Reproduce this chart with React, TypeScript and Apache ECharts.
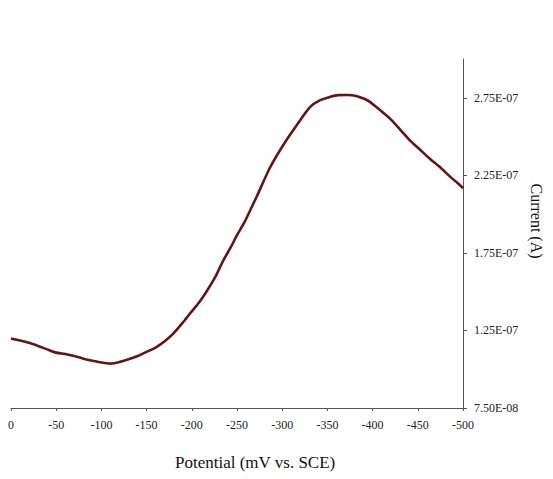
import React, { useEffect, useRef } from "react";
import * as echarts from "echarts";

// Potential (mV vs. SCE) and measured current (A)
const potential = [
  0, -10, -20, -30, -40, -50, -60, -70, -80, -90, -100, -110, -120, -130, -140, -150,
  -160, -170, -180, -190, -198, -208, -216, -226, -235, -243, -250, -258, -265, -272,
  -286, -301, -316, -331, -342, -353, -362, -372, -382, -390, -397, -408, -419, -430,
  -441, -452, -463, -475, -486, -494, -500,
];
const current = [
  1.198e-7, 1.185e-7, 1.17e-7, 1.15e-7, 1.128e-7, 1.107e-7, 1.098e-7, 1.085e-7, 1.068e-7,
  1.055e-7, 1.043e-7, 1.036e-7, 1.046e-7, 1.064e-7, 1.085e-7, 1.112e-7, 1.14e-7, 1.18e-7,
  1.233e-7, 1.3e-7, 1.359e-7, 1.43e-7, 1.498e-7, 1.595e-7, 1.703e-7, 1.785e-7, 1.864e-7,
  1.945e-7, 2.03e-7, 2.115e-7, 2.294e-7, 2.444e-7, 2.573e-7, 2.691e-7, 2.735e-7, 2.756e-7,
  2.767e-7, 2.768e-7, 2.762e-7, 2.745e-7, 2.724e-7, 2.672e-7, 2.617e-7, 2.548e-7, 2.477e-7,
  2.418e-7, 2.359e-7, 2.3e-7, 2.24e-7, 2.2e-7, 2.167e-7,
];
const currentTicks = [7.5e-8, 1.25e-7, 1.75e-7, 2.25e-7, 2.75e-7];

const sci = (v: number) => {
  const [m, e] = v.toExponential(2).toUpperCase().split("E");
  const n = parseInt(e, 10);
  const sign = n < 0 ? "-" : "+";
  return `${m}E${sign}${String(Math.abs(n)).padStart(2, "0")}`;
};

const SERIF = "'Liberation Serif', 'Times New Roman', serif";

export default function App() {
  const ref = useRef<HTMLDivElement>(null);

  useEffect(() => {
    document.body.style.margin = "0";
    if (!ref.current) return;
    const chart = echarts.init(ref.current, undefined, { renderer: "svg" });
    chart.setOption({
      animation: false,
      backgroundColor: "#ffffff",
      grid: { left: 11, right: 90, top: 59, bottom: 71, containLabel: false },
      xAxis: {
        type: "value",
        inverse: true,
        min: -500,
        max: 0,
        interval: 50,
        axisLine: { show: true, onZero: false, lineStyle: { color: "#555", width: 1 } },
        axisTick: { show: true, length: 3, lineStyle: { color: "#555" } },
        axisLabel: { color: "#222", fontFamily: SERIF, fontSize: 12, margin: 11 },
        splitLine: { show: false },
      },
      yAxis: {
        type: "value",
        position: "right",
        min: 7.5e-8,
        max: 3e-7,
        axisLine: { show: true, onZero: false, lineStyle: { color: "#555", width: 1 } },
        axisTick: {
          show: true,
          length: 4,
          lineStyle: { color: "#555" },
          customValues: currentTicks,
        },
        axisLabel: {
          color: "#222",
          fontFamily: SERIF,
          fontSize: 12,
          margin: 11,
          customValues: currentTicks,
          formatter: (v: number) => sci(v),
        },
        splitLine: { show: false },
      },
      graphic: [
        {
          type: "text",
          left: 175,
          top: 454,
          style: {
            text: "Potential (mV vs. SCE)",
            font: `17px ${SERIF}`,
            fill: "#111",
          },
        },
        {
          type: "text",
          x: 536,
          y: 221,
          rotation: -Math.PI / 2,
          style: {
            text: "Current (A)",
            font: `16px ${SERIF}`,
            fill: "#111",
            align: "center",
            verticalAlign: "middle",
          },
        },
      ],
      series: [
        {
          type: "line",
          data: potential.map((p, i) => [p, current[i]]),
          showSymbol: false,
          smooth: 0.25,
          lineStyle: { color: "#621519", width: 2.6 },
        },
      ],
    });
    return () => chart.dispose();
  }, []);

  return <div ref={ref} style={{ width: 553, height: 479 }} />;
}
